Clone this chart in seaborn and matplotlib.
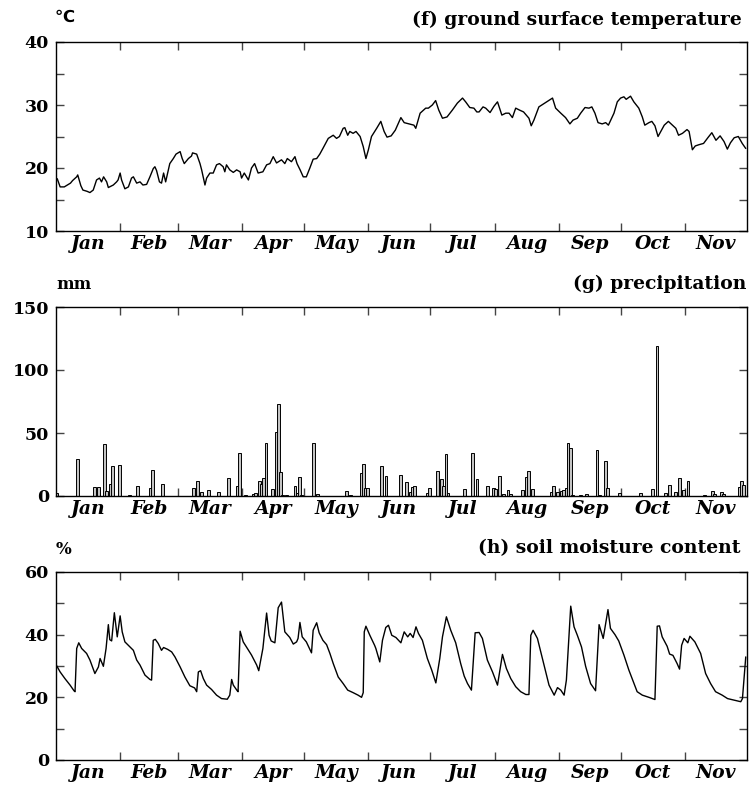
import numpy as np
import pandas as pd
import matplotlib
matplotlib.use("Agg")
import matplotlib.pyplot as plt
import seaborn as sns

# ---------------- data ----------------
months = ["Jan", "Feb", "Mar", "Apr", "May", "Jun", "Jul", "Aug", "Sep", "Oct", "Nov"]
month_days = [31, 28, 31, 30, 31, 30, 31, 31, 30, 31, 30]

# ground surface temperature (day measured from Jan 1, value in deg C)
temp_day = [0.6, 2, 4, 7, 8, 10, 10.5, 12, 13, 15, 16.4, 18, 19.6, 21, 22, 23, 24.5, 25.3, 27.7, 29.3,
            30, 31, 31.7, 33.3, 35, 36.5, 37.4, 39, 40.6, 42, 43.8, 45.4, 47, 47.8, 48.6, 50, 51, 52, 53, 55,
            56.7, 58, 60, 61, 62, 64, 65.5, 66, 68, 69.6, 70.4, 72, 72.8, 74.4, 76, 77.6, 79, 80.8, 81.6, 82.4,
            84, 85.7, 87.3, 89, 89.7, 91, 93, 94.5, 96, 97.7, 100, 101.8, 103.4, 105, 106.6, 109, 110.6, 111.8,
            113.8, 115.5, 116.5, 118, 119.5, 121, 122.7, 124.3, 126, 127.5, 129, 131.6, 134, 135.6, 137, 138.8,
            139.6, 141, 142, 143.6, 145, 147, 148.5, 149.8, 151, 152.5, 155, 157, 158.6, 160, 162, 164, 166.7,
            168.3, 170.7, 173, 173.9, 176, 178.7, 180, 181.9, 183.5, 185, 186.8, 189, 191.6, 194, 196.5, 198,
            200, 202, 203.4, 204.5, 206.4, 207.7, 209.8, 211.7, 213.4, 215.5, 217.4, 219, 220.6, 222.2, 224,
            226, 228.6, 229.7, 231, 233.4, 236.7, 239, 240, 241.5, 244, 246.3, 248.4, 249.9, 252, 253.6, 255.7,
            257.6, 259, 260.5, 262, 264, 265.7, 267, 269.7, 271.3, 272.9, 274.5, 275.6, 277.7, 279.3, 281.7,
            283.4, 284.6, 286.6, 288, 289.5, 291, 292, 294, 296, 298, 299.6, 300.9, 302.8, 305, 306, 307.6, 309,
            310.8, 313, 315.3, 317, 319, 321, 322.9, 324.5, 326, 327.8, 329.8, 331.7, 333.4]
temp_val = [18.3, 17.0, 17.0, 17.6, 18.0, 18.6, 18.9, 17.2, 16.5, 16.3, 16.1, 16.5, 18.1, 18.4, 17.8, 18.6, 17.8,
            16.9, 17.3, 17.8, 18.1, 19.2, 18.1, 16.7, 17.0, 18.4, 18.6, 17.6, 17.8, 17.3, 17.4, 18.6, 19.9, 20.2,
            19.6, 17.8, 17.6, 19.2, 17.8, 20.7, 21.5, 22.2, 22.6, 21.5, 20.7, 21.5, 21.9, 22.4, 22.2, 20.7, 19.7,
            17.3, 18.4, 19.2, 19.2, 20.5, 20.7, 20.2, 19.4, 20.5, 19.7, 19.3, 19.7, 19.4, 18.4, 19.2, 18.1, 20.0,
            20.7, 19.2, 19.4, 20.5, 20.7, 21.8, 20.8, 21.3, 20.7, 21.5, 21.0, 21.8, 20.7, 19.7, 18.6, 18.6, 20.0,
            21.4, 21.5, 22.2, 23.1, 24.7, 25.2, 24.7, 25.0, 26.3, 26.4, 25.2, 25.8, 25.5, 25.8, 25.0, 23.4, 21.5,
            22.9, 25.0, 26.3, 27.4, 25.8, 24.9, 25.1, 26.0, 28.0, 27.2, 27.0, 26.8, 26.3, 28.7, 29.5, 29.5, 30.0,
            30.7, 29.2, 27.9, 28.1, 29.2, 30.3, 31.1, 30.5, 29.6, 29.5, 28.9, 28.9, 29.7, 29.5, 28.8, 29.8, 30.5,
            28.4, 28.7, 28.7, 28.0, 29.5, 29.2, 28.9, 27.9, 26.7, 27.6, 29.7, 30.4, 30.9, 31.1, 29.5, 28.7, 28.0,
            27.0, 27.6, 27.9, 28.7, 29.6, 29.5, 29.7, 28.7, 27.2, 27.0, 27.2, 26.8, 28.7, 30.5, 31.1, 31.3, 30.9,
            31.4, 30.5, 29.5, 28.1, 26.8, 27.2, 27.4, 26.7, 25.0, 25.6, 26.8, 27.4, 26.8, 26.3, 25.2, 25.5, 26.1,
            25.8, 22.9, 23.5, 23.7, 23.9, 24.9, 25.6, 24.4, 25.1, 24.2, 23.0, 24.0, 24.8, 25.0, 23.9, 23.1]

# daily precipitation (day of year, mm)
precip_doy = [1, 11, 19, 21, 24, 25, 27, 28, 31, 36, 40, 46, 47, 52, 67, 69, 71, 74, 79, 84, 88, 89, 92, 96, 97,
              99, 100, 101, 102, 105, 107, 108, 109, 110, 112, 116, 117, 118, 119, 125, 127, 141, 143, 148, 149,
              150, 151, 158, 160, 167, 170, 172, 173, 174, 180, 181, 185, 187, 188, 189, 190, 198, 202, 204, 209,
              212, 213, 215, 217, 219, 220, 226, 228, 229, 231, 240, 241, 243, 245, 246, 247, 248, 249, 250, 254,
              257, 262, 263, 266, 267, 273, 283, 289, 291, 295, 297, 300, 302, 304, 306, 314, 318, 319, 322, 323,
              331, 332, 333]
precip_mm = [2, 29, 7, 7.5, 41, 4, 9.5, 24, 25, 0.5, 8, 6, 20.5, 9.5, 6, 12, 3, 4.5, 3, 14.5, 8, 34, 0.5, 1.3, 2,
             11.7, 9.3, 14, 42, 5.3, 51, 73, 19.3, 0.5, 0.5, 8.2, 2.7, 15.4, 0.5, 42.4, 1.3, 3.7, 0.5, 18, 25.4,
             6, 6, 24, 16.2, 16.7, 10.9, 3.4, 7.4, 8.2, 2.7, 6, 20, 13.5, 8, 33, 2.7, 5.6, 34, 13.3, 8,
             6, 5.6, 16, 1.3, 4.8, 1.3, 4.8, 14.8, 20, 5.3, 3.2, 8.2, 2.9, 4, 4.8, 6, 42.4, 38, 0.8, 0.5,
             1.9, 36.6, 0.8, 28, 6, 2, 2.7, 5.3, 118.7, 2, 8.7, 2.9, 14, 4.8, 12.2, 0.5, 4.2, 1.6, 2.9, 1.3,
             7.4, 12.2, 8.7]

# soil moisture content (day measured from Jan 1, %)
sm_day = [0.3, 2, 4.3, 6.8, 8.7, 9.2, 10, 11, 12.4, 14.8, 16.4, 18.8, 20.5, 21.3, 22.9, 24.2, 25.3, 26, 26.9, 28.2,
          29.6, 31, 32, 33.3, 35.7, 37.4, 39, 40.6, 43, 45.4, 46.2, 47, 48, 49.4, 51, 52, 54, 55.9, 57.5, 60, 62.3,
          64.7, 67, 68, 68.8, 69.9, 71.2, 72.8, 75.2, 77.6, 80, 82.8, 84, 84.9, 85.7, 87.6, 88, 89, 90.5, 92, 94.5,
          97, 98, 100, 101.8, 103, 104, 105.8, 107.4, 109, 110.6, 113, 114.7, 116.3, 117, 117.9, 119, 121, 123.5,
          124.3, 126, 127.2, 129, 130.8, 132.4, 134, 136.4, 138.8, 141, 143.6, 146, 147.7, 148.5, 149, 149.8,
          151.7, 154, 154.6, 156.5, 157.8, 159.4, 160.7, 162.3, 164.3, 166.7, 168.3, 170, 171.2, 172.6, 174,
          175.2, 177.1, 179.5, 181.6, 183.6, 185.5, 186.8, 188.7, 190.8, 193.2, 195.6, 197.3, 198.9, 200.8,
          202.6, 204.5, 206.1, 208.5, 211, 213.4, 215.8, 217.7, 219.8, 222.2, 224.6, 227.1, 228.6, 229.5, 230.6,
          232.7, 235.1, 238.3, 240.8, 242.4, 244, 245.6, 246.7, 248.8, 250.4, 252, 254, 256, 258.4, 260.8,
          262.5, 264.5, 266.8, 268, 270.2, 272, 274.5, 276.9, 279.3, 280.9, 283.4, 286.6, 289.5, 290.6, 291.7,
          293, 295.4, 296.6, 298.2, 300.2, 301.4, 302.4, 303.6, 305.4, 306.4, 308.8, 311.6, 314, 316.4, 318.8,
          322, 324.6, 327.8, 331, 331.8, 333.4]
sm_val = [30.1, 28.1, 26.0, 23.9, 22.1, 21.8, 35.6, 37.4, 35.6, 34.0, 31.9, 27.6, 29.7, 32.4, 29.9, 35.6, 43.2,
          38.4, 38.0, 47.0, 39.3, 46.0, 40.9, 37.7, 36.1, 35.0, 31.9, 30.3, 27.1, 25.7, 25.5, 38.2, 38.5, 37.2,
          35.0, 35.9, 35.3, 34.5, 32.9, 29.7, 26.5, 23.7, 23.0, 21.8, 28.1, 28.5, 26.0, 23.9, 22.5, 20.7, 19.6,
          19.4, 20.7, 25.7, 23.9, 22.1, 21.8, 41.1, 37.7, 36.1, 33.5, 30.3, 28.5, 35.6, 46.9, 39.8, 38.0, 37.4,
          48.6, 50.4, 40.9, 39.1, 37.0, 37.7, 38.8, 43.9, 39.3, 37.7, 34.2, 41.4, 43.8, 40.6, 38.2, 36.8, 34.0,
          30.8, 26.5, 24.4, 22.3, 21.5, 20.7, 20.0, 21.5, 40.9, 42.7, 39.8, 36.6, 35.6, 31.3, 38.2, 42.3, 43.0,
          39.8, 39.1, 37.4, 40.9, 39.3, 40.4, 39.1, 42.5, 40.4, 38.2, 32.4, 28.7, 24.6, 32.4, 39.3, 45.7, 41.4,
          37.4, 30.8, 26.8, 24.4, 22.3, 40.6, 40.7, 38.8, 31.9, 28.1, 23.9, 33.7, 29.2, 26.0, 23.4, 21.8, 20.9,
          20.9, 39.8, 41.4, 38.8, 32.4, 23.9, 20.7, 23.1, 22.3, 20.7, 25.5, 49.1, 42.5, 39.8, 36.1, 29.9, 24.4,
          22.1, 43.2, 38.8, 48.0, 42.0, 40.0, 38.0, 33.5, 28.7, 24.6, 21.8, 20.7, 20.0, 19.3, 42.7, 42.8, 39.3,
          36.3, 33.8, 33.4, 30.8, 29.0, 36.6, 38.8, 37.4, 39.5, 37.7, 34.0, 27.6, 24.4, 21.8, 20.7, 19.6, 19.1,
          18.6, 19.6, 32.9]

# ---------------- style ----------------
sns.set_theme(style="white")
plt.rcParams['font.family'] = ['DejaVu Serif', 'DejaVu Sans']
plt.rcParams['axes.edgecolor'] = 'black'
plt.rcParams['axes.linewidth'] = 1.0
plt.rcParams['text.color'] = 'black'
plt.rcParams['xtick.color'] = 'black'
plt.rcParams['ytick.color'] = 'black'
plt.rcParams['xtick.labelcolor'] = 'black'
plt.rcParams['ytick.labelcolor'] = 'black'

fig = plt.figure(figsize=(7.56, 7.93), dpi=100)
W, H = 756.0, 793.0


def add_ax(top, bottom, left=56, right=747):
    return fig.add_axes([left / W, 1 - bottom / H, (right - left) / W, (bottom - top) / H])


ax1 = add_ax(42, 231)
ax2 = add_ax(307, 496)
ax3 = add_ax(572, 760)

tick_font = dict(fontsize=12.5, fontweight='bold', family='DejaVu Serif', color='black')


def style_axis(ax, ymin, ymax, major, minor):
    ax.set_xlim(0, 334)
    ends = np.cumsum(month_days)
    ax.set_xticks(ends[:-1])
    ax.set_xticklabels([])
    centers = ends - np.array(month_days) / 2.0
    ax.set_xticks(centers, minor=True)
    ax.set_xticklabels(months, minor=True, fontsize=13.5, fontweight='bold', fontstyle='italic',
                       family='DejaVu Serif', color='black')
    ax.tick_params(axis='x', which='minor', length=0, pad=3, bottom=True, top=False)
    ax.tick_params(axis='x', which='major', direction='in', length=6, width=1.0,
                   top=True, bottom=True, color='#444444')
    ax.set_ylim(ymin, ymax)
    ax.set_yticks(major)
    ax.set_yticklabels([str(v) for v in major], **tick_font)
    ax.set_yticks(minor, minor=True)
    ax.tick_params(axis='y', which='both', direction='in', length=6, width=1.0,
                   left=True, right=True, color='#444444', pad=5)
    ax.set_xlabel('')
    ax.set_ylabel('')
    for s in ax.spines.values():
        s.set_visible(True)
        s.set_color('black')
        s.set_linewidth(1.0)


# (f) temperature
sns.lineplot(x=temp_day, y=temp_val, ax=ax1, color='black', linewidth=1.0, sort=False, estimator=None)
style_axis(ax1, 10, 40, [10, 20, 30, 40], [15, 25, 35])

# (g) precipitation
precip_df = pd.DataFrame({"x": [d - 0.5 for d in precip_doy], "mm": precip_mm})
sns.histplot(data=precip_df, x="x", weights="mm", binwidth=1, binrange=(0, 334), ax=ax2, shrink=1.4,
             color='#c4c4c4', edgecolor='black', linewidth=0.7, alpha=1.0)
style_axis(ax2, 0, 150, [0, 50, 100, 150], [])

# (h) soil moisture
sns.lineplot(x=sm_day, y=sm_val, ax=ax3, color='black', linewidth=1.0, sort=False, estimator=None)
style_axis(ax3, 0, 60, [0, 20, 40, 60], [10, 30, 50])

# titles and units
title_kw = dict(fontsize=13.5, fontweight='bold', family='DejaVu Serif', ha='right', va='center',
                color='black')
fig.text(742 / W, 1 - 20 / H, "(f) ground surface temperature", **title_kw)
fig.text(746 / W, 1 - 284 / H, "(g) precipitation", **title_kw)
fig.text(741 / W, 1 - 548 / H, "(h) soil moisture content", **title_kw)

unit_kw = dict(fontsize=12, fontweight='bold', ha='left', va='center', color='black')
fig.text(55 / W, 1 - 17 / H, "℃", family='DejaVu Sans', **unit_kw)
fig.text(56 / W, 1 - 285 / H, "mm", family='DejaVu Serif', **unit_kw)
fig.text(56 / W, 1 - 549 / H, "%", family='DejaVu Serif', **unit_kw)

fig.savefig("out.png", dpi=100)
